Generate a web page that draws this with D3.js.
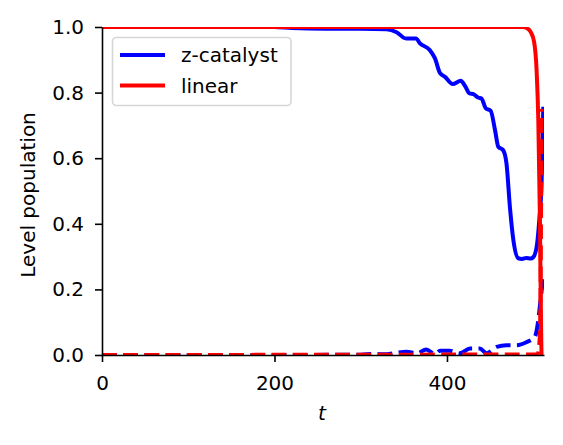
<!DOCTYPE html>
<html>
<head>
<meta charset="utf-8">
<script src="https://cdn.jsdelivr.net/npm/d3@7"></script>
<style>
  body { margin: 0; background: #fff; }
  text { font-family: "DejaVu Sans", sans-serif; }
</style>
</head>
<body>
<div id="container"></div>
<script>
const width = 563;
const height = 445;

// z-catalyst, level 1 (solid) and level 2 (dashed)
const zcatT = [0, 100, 200, 220, 260, 300, 330, 341.6, 352.5, 364, 368.7, 380, 386, 392, 397.7, 406.6, 416, 421, 425.9, 431, 436, 440, 445, 450.6, 455.7, 459.5, 465, 469, 473, 477, 482.7, 487, 492, 497, 500, 504, 507, 509.8, 511.7];
const zcatPop = [1, 1, 1, 0.997, 0.995, 0.995, 0.993, 0.984, 0.965, 0.965, 0.95, 0.93, 0.905, 0.859, 0.848, 0.826, 0.836, 0.82, 0.798, 0.795, 0.785, 0.782, 0.752, 0.745, 0.686, 0.635, 0.625, 0.584, 0.45, 0.35, 0.295, 0.293, 0.296, 0.294, 0.298, 0.33, 0.41, 0.534, 0.757];
const zcatT2 = [0, 200, 300, 314.6, 330, 341.6, 353, 365, 376, 386, 392, 403, 415, 426.7, 438, 446, 457.6, 469, 480.8, 492, 502, 505.9, 508.6, 511.7];
const zcatPop2 = [0, 0, 0.001, 0.003, 0.002, 0.007, 0.01, 0.005, 0.017, 0.003, 0.013, 0.013, 0.005, 0.02, 0.02, 0.005, 0.025, 0.03, 0.03, 0.039, 0.056, 0.107, 0.17, 0.24];

// linear, level 1 (solid) and level 2 (dashed)
const linT = [0, 488, 493, 497, 501, 503.9, 505.9, 507.8, 509, 509.8, 511.7];
const linPop = [1, 1, 0.996, 0.985, 0.955, 0.869, 0.716, 0.41, 0.107, 0, 0];
const linT2 = [0, 505, 507.5, 508.8, 509.4, 509.8];
const linPop2 = [0, 0.002, 0.05, 0.3, 0.6, 0.75];

const xTicks = [0, 200, 400];
const yTicks = [0, 0.2, 0.4, 0.6, 0.8, 1.0];

const svg = d3.select("#container")
  .append("svg")
  .attr("width", width)
  .attr("height", height);

svg.append("rect").attr("width", width).attr("height", height).attr("fill", "#fff");

const x = d3.scaleLinear().domain([0, 512.5]).range([102, 544]);
const y = d3.scaleLinear().domain([0, 1]).range([355, 27]);

svg.append("clipPath").attr("id", "clip")
  .append("rect")
  .attr("x", 102).attr("y", 27)
  .attr("width", 544 - 102).attr("height", 355 - 27);

const line = d3.line()
  .x(d => x(d[0]))
  .y(d => y(d[1]))
  .curve(d3.curveMonotoneX);

const series = [
  { t: zcatT, v: zcatPop, color: "#0000ff", dash: null },
  { t: zcatT2, v: zcatPop2, color: "#0000ff", dash: "14.8,6.4" },
  { t: linT, v: linPop, color: "#ff0000", dash: null },
  { t: linT2, v: linPop2, color: "#ff0000", dash: "14.8,6.4" }
];

const plot = svg.append("g").attr("clip-path", "url(#clip)");
series.forEach(s => {
  plot.append("path")
    .datum(d3.zip(s.t, s.v))
    .attr("d", line)
    .attr("fill", "none")
    .attr("stroke", s.color)
    .attr("stroke-width", 4)
    .attr("stroke-linejoin", "round")
    .attr("stroke-dasharray", s.dash);
});

// axes
const xAxis = svg.append("g")
  .attr("transform", "translate(0,355)")
  .call(d3.axisBottom(x).tickValues(xTicks).tickSize(7).tickSizeOuter(0).tickFormat(d3.format("d")));
xAxis.selectAll("text").attr("y", 20).attr("dy", "0.73em");

const yAxis = svg.append("g")
  .attr("transform", "translate(102,0)")
  .call(d3.axisLeft(y).tickValues(yTicks).tickSize(7).tickSizeOuter(0).tickFormat(d3.format(".1f")));
yAxis.selectAll("text").attr("x", -18);

[xAxis, yAxis].forEach(a => {
  a.selectAll("text").attr("font-size", 20).attr("fill", "#000")
    .attr("font-family", "DejaVu Sans, sans-serif");
  a.selectAll("line").attr("stroke", "#000").attr("stroke-width", 1.6);
  a.select(".domain").attr("stroke", "#000").attr("stroke-width", 1.6);
});

// axis labels
svg.append("text")
  .attr("x", 322).attr("y", 420)
  .attr("text-anchor", "middle")
  .attr("font-size", 20)
  .attr("font-style", "italic")
  .text("t");

svg.append("text")
  .attr("transform", "translate(35,195) rotate(-90)")
  .attr("text-anchor", "middle")
  .attr("font-size", 20)
  .text("Level population");

// legend
const legend = svg.append("g");
legend.append("rect")
  .attr("x", 112.5).attr("y", 37.5)
  .attr("width", 178.5).attr("height", 68)
  .attr("rx", 4)
  .attr("fill", "#fff").attr("fill-opacity", 0.8)
  .attr("stroke", "#d6d6d6").attr("stroke-width", 1.6);

const legendItems = [
  { label: "z-catalyst", color: "#0000ff", ly: 55 },
  { label: "linear", color: "#ff0000", ly: 85.5 }
];
legendItems.forEach(d => {
  legend.append("line")
    .attr("x1", 120).attr("x2", 165)
    .attr("y1", d.ly).attr("y2", d.ly)
    .attr("stroke", d.color).attr("stroke-width", 4);
  legend.append("text")
    .attr("x", 181).attr("y", d.ly + 7)
    .attr("font-size", 20)
    .text(d.label);
});
</script>
</body>
</html>
